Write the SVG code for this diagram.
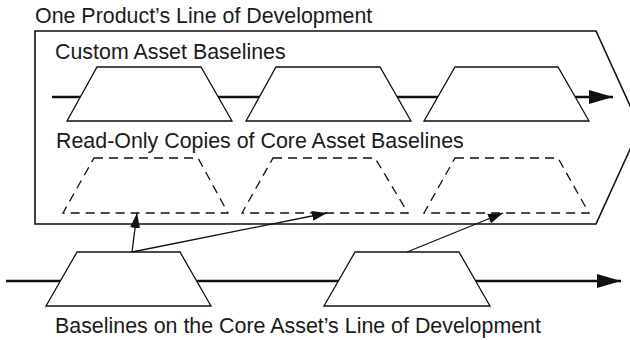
<svg xmlns="http://www.w3.org/2000/svg" width="630" height="340" viewBox="0 0 630 340">
<style>
text{font-family:"Liberation Sans",Arial,sans-serif;font-size:21.4px;fill:#1a1a1a}
.tz{fill:#fff;stroke:#111;stroke-width:1.3;stroke-linejoin:miter}
.dz{fill:none;stroke:#111;stroke-width:1.3;stroke-dasharray:9 6}
.line{stroke:#111;stroke-width:2.4;fill:none}
.ar{stroke:#111;stroke-width:1.3;fill:none}
</style>
<defs>
<marker id="big" viewBox="0 0 24 14" refX="24" refY="7" markerWidth="24" markerHeight="14" markerUnits="userSpaceOnUse" orient="auto"><path d="M0,0L24,7L0,14Z" fill="#111"/></marker>
<marker id="sm" viewBox="0 0 15 10" refX="15" refY="5" markerWidth="15" markerHeight="10" markerUnits="userSpaceOnUse" orient="auto"><path d="M0,0L15,5L0,10Z" fill="#111"/></marker>
</defs>
<text x="35" y="23">One Product’s Line of Development</text>
<g id="frame"><path d="M35,31H596L640,127.5L596,224H35Z" fill="none" stroke="#111" stroke-width="1.6"/></g>
<text x="55" y="59">Custom Asset Baselines</text>
<text x="56" y="148">Read-Only Copies of Core Asset Baselines</text>
<text x="55" y="333">Baselines on the Core Asset’s Line of Development</text>
<g id="connectors">
<line class="line" x1="52" y1="97" x2="613" y2="97" marker-end="url(#big)"/>
<line class="line" x1="6" y1="281" x2="621" y2="281" marker-end="url(#big)"/>
</g>
<g id="custom1"><path class="tz" d="M97,67H201L232,121H67Z"/></g>
<g id="custom2"><path class="tz" d="M276,67H380L411,121H246Z"/></g>
<g id="custom3"><path class="tz" d="M455,67H558L589,121H424Z"/></g>
<g id="copy1"><path class="dz" d="M94,158H198L228,213H63Z"/></g>
<g id="copy2"><path class="dz" d="M273,158H375L408,213H242Z"/></g>
<g id="copy3"><path class="dz" d="M455,158H558L589,213H424Z"/></g>
<g id="core1"><path class="tz" d="M77,252H180L211,306H46Z"/></g>
<g id="core2"><path class="tz" d="M355,252H459L490,306H324Z"/></g>
<g id="links">
<line class="ar" x1="132" y1="252" x2="137" y2="213" marker-end="url(#sm)"/>
<line class="ar" x1="132" y1="252" x2="327" y2="213" marker-end="url(#sm)"/>
<line class="ar" x1="407" y1="252" x2="503" y2="213" marker-end="url(#sm)"/>
</g>
</svg>
